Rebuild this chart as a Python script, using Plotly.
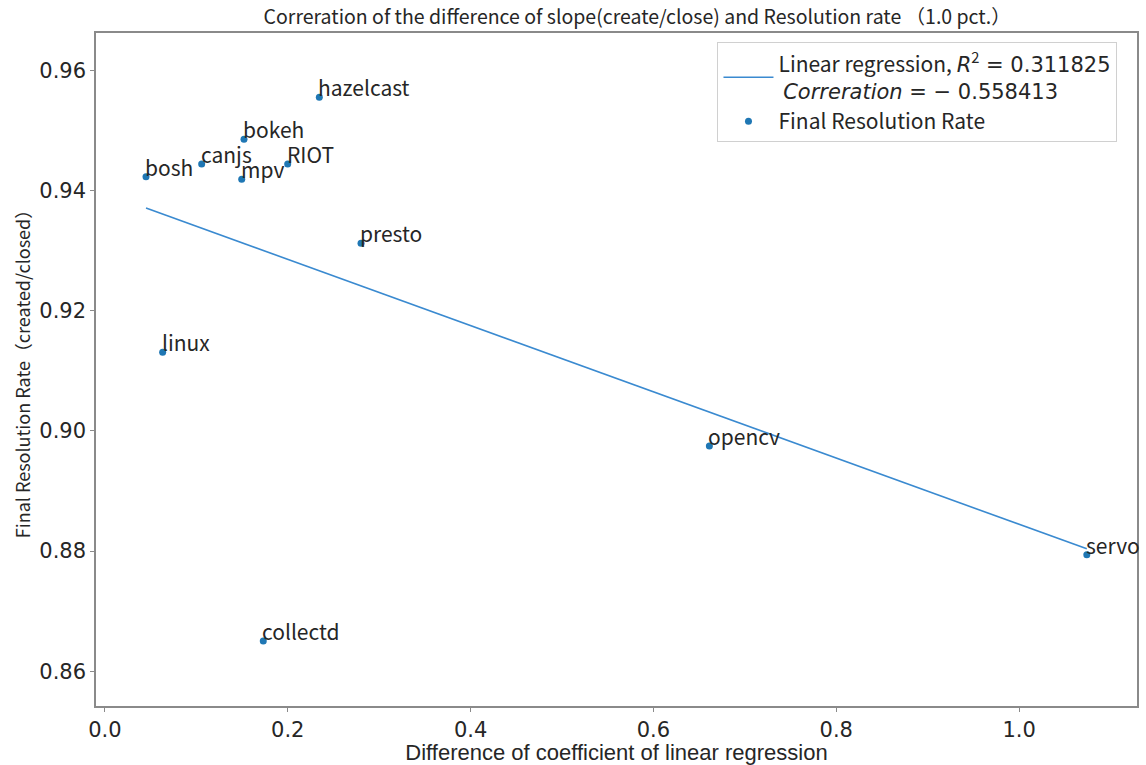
import plotly.graph_objects as go

projects = ["bosh", "canjs", "bokeh", "mpv", "RIOT", "hazelcast", "presto",
            "linux", "collectd", "opencv", "servo"]
slope_diff = [0.0449, 0.1058, 0.1521, 0.1496, 0.1999, 0.2345, 0.2801,
              0.0631, 0.1732, 0.6612, 1.0741]
resolution_rate = [0.94235, 0.94446, 0.94858, 0.94191, 0.94446, 0.95557, 0.93126,
                   0.91311, 0.86503, 0.8975, 0.8794]

reg_x = [0.0449, 1.0741]
reg_y = [0.93714, 0.88037]
r_squared = 0.311825
correlation = -0.558413

title_text = "Correration of the difference of slope(create/close) and Resolution rate （1.0 pct.）"
x_label = "Difference of coefficient of linear regression"
y_label = "Final Resolution Rate（created/closed）"
x_ticks = [0.0, 0.2, 0.4, 0.6, 0.8, 1.0]
y_ticks = [0.86, 0.88, 0.90, 0.92, 0.94, 0.96]

BLUE = "#1f77b4"
TXT = "#262626"
FONT = "Noto Sans CJK JP"
MATH = "DejaVu Sans"

fig = go.Figure()
fig.add_trace(go.Scatter(
    x=reg_x, y=reg_y, mode="lines",
    line=dict(color="#3a8ad0", width=1.6),
    name=(f"Linear regression, <i><span style='font-family:{MATH}'>R</span></i><sup>2</sup>"
          f"<span style='font-family:{MATH}'> = {r_squared:.6f}</span>"
          f"<br> <i><span style='font-family:{MATH}'>Correration</span></i>"
          f"<span style='font-family:{MATH}'> = − {abs(correlation):.6f}</span>"),
))
fig.add_trace(go.Scatter(
    x=slope_diff, y=resolution_rate, mode="markers",
    marker=dict(color=BLUE, size=7),
    name="Final Resolution Rate",
))

for name, xv, yv in zip(projects, slope_diff, resolution_rate):
    fig.add_annotation(x=xv, y=yv, text=name, showarrow=False,
                       xanchor="left", yanchor="bottom", xshift=-3, yshift=-7,
                       font=dict(family=FONT, size=21, color=TXT))

axis_common = dict(showline=True, linecolor="#8a8a8a", linewidth=1.5, mirror=True,
                   showgrid=False, zeroline=False, ticks="outside", ticklen=4,
                   tickcolor="#8a8a8a", automargin=False,
                   tickfont=dict(family="DejaVu Sans", size=21, color=TXT))

fig.update_xaxes(range=[-0.0098, 1.129], tickvals=x_ticks,
                 ticktext=[f"{v:.1f}" for v in x_ticks],
                 title=dict(text=x_label,
                            font=dict(family="Liberation Sans", size=22, color=TXT),
                            standoff=1),
                 **axis_common)
fig.update_yaxes(range=[0.8542, 0.96628], tickvals=y_ticks,
                 ticktext=[f"{v:.2f}" for v in y_ticks],
                 title=dict(text=y_label, font=dict(family=FONT, size=18, color=TXT),
                            standoff=4),
                 **axis_common)

fig.update_layout(
    width=1146, height=765,
    margin=dict(l=96, r=9, t=33, b=59),
    paper_bgcolor="white", plot_bgcolor="white",
    title=dict(text=title_text, x=0.556, xanchor="center",
               y=1 - 17 / 765, yanchor="middle",
               font=dict(family=FONT, size=19.5, color=TXT)),
    showlegend=True,
    legend=dict(x=0.597, y=0.986, xanchor="left", yanchor="top",
                bgcolor="white", bordercolor="#d0d0d0", borderwidth=1,
                font=dict(family=FONT, size=21, color=TXT),
                itemwidth=50, tracegroupgap=6),
)

fig.write_html("out.html")
